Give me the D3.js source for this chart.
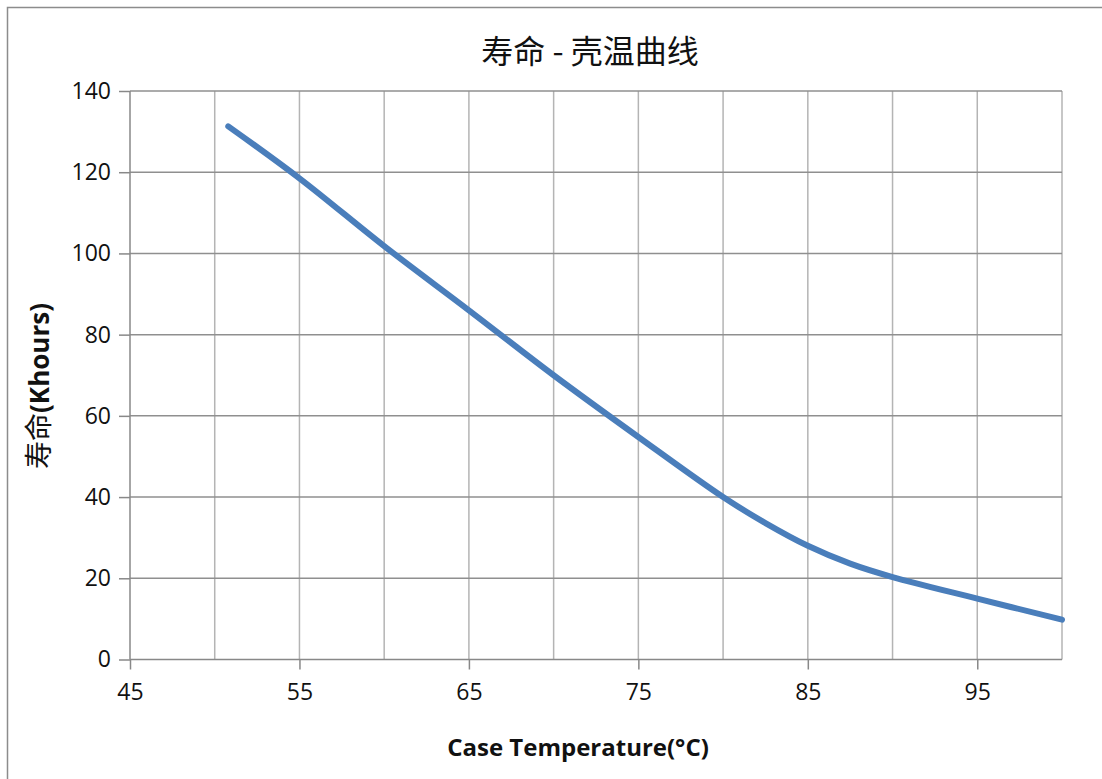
<!DOCTYPE html>
<html>
<head>
<meta charset="utf-8">
<script src="https://cdn.jsdelivr.net/npm/d3@7/dist/d3.min.js"></script>
<style>
  body { margin: 0; background: #fff; }
  svg { display: block; }
</style>
</head>
<body>
<svg id="chart"></svg>
<script>
// data
var temps = [50.8, 55, 60, 65, 70, 75, 80, 82.5, 85, 87.5, 90, 95, 100];
var life = [131.3, 118.5, 101.8, 86, 70, 54.8, 40, 33.6, 28, 23.6, 20.3, 15, 9.8];
var xTicks = [45, 55, 65, 75, 85, 95];
var xGrid = [50, 55, 60, 65, 70, 75, 80, 85, 90, 95, 100];
var yTicks = [0, 20, 40, 60, 80, 100, 120, 140];

var svgWidth = 1102, svgHeight = 779;
var plotLeft = 130, plotRight = 1062, plotTop = 91, plotBottom = 659.5;

var svg = d3.select('#chart')
    .attr("width", svgWidth)
    .attr("height", svgHeight);

// outer border
svg.append("rect")
    .attr("x", 7.5).attr("y", 7.5)
    .attr("width", svgWidth + 20).attr("height", svgHeight + 20)
    .attr("fill", "none")
    .attr("stroke", "#8c8c8c")
    .attr("stroke-width", 1.5);

var x = d3.scaleLinear().domain([45, 100]).range([plotLeft, plotRight]);
var y = d3.scaleLinear().domain([0, 140]).range([plotBottom, plotTop]);

// gridlines
svg.selectAll(".vgrid")
    .data(xGrid)
    .enter()
    .append("line")
    .attr("x1", function(d) { return x(d); })
    .attr("x2", function(d) { return x(d); })
    .attr("y1", plotTop).attr("y2", plotBottom)
    .attr("stroke", "#b4b4b4")
    .attr("stroke-width", 1.5);

svg.selectAll(".hgrid")
    .data(yTicks.slice(1))
    .enter()
    .append("line")
    .attr("x1", plotLeft).attr("x2", plotRight)
    .attr("y1", function(d) { return y(d); })
    .attr("y2", function(d) { return y(d); })
    .attr("stroke", "#8f8f8f")
    .attr("stroke-width", 1.5);

// axes
var xAxis = d3.axisBottom(x).tickValues(xTicks).tickSize(10).tickPadding(14).tickFormat(d3.format("d"));
var yAxis = d3.axisLeft(y).tickValues(yTicks).tickSize(11).tickPadding(8).tickFormat(d3.format("d"));

var gx = svg.append("g")
    .attr("transform", "translate(0," + plotBottom + ")")
    .call(xAxis);
var gy = svg.append("g")
    .attr("transform", "translate(" + plotLeft + ",0)")
    .call(yAxis);

[gx, gy].forEach(function(g) {
    g.select(".domain").attr("stroke", "#888").attr("stroke-width", 1.5);
    g.selectAll(".tick line").attr("stroke", "#888").attr("stroke-width", 1.5);
    g.selectAll(".tick text")
        .style("font", "23px 'Open Sans'")
        .attr("fill", "#111");
});
gy.select(".domain").attr("d", "M0," + plotBottom + "V" + plotTop);
gx.select(".domain").attr("d", "M" + plotLeft + ",0H" + plotRight);

// curve
var line = d3.line()
    .x(function(d, i) { return x(temps[i]); })
    .y(function(d) { return y(d); })
    .curve(d3.curveCatmullRom.alpha(0.5));

svg.append("path")
    .datum(life)
    .attr("d", line)
    .attr("fill", "none")
    .attr("stroke", "#4a7ebb")
    .attr("stroke-width", 6)
    .attr("stroke-linecap", "round");

// title
svg.append("text")
    .attr("x", 590).attr("y", 63)
    .attr("text-anchor", "middle")
    .style("font", "32px 'Noto Sans CJK SC'")
    .attr("fill", "#111")
    .text("寿命 - 壳温曲线");

// x axis title
svg.append("text")
    .attr("x", 578).attr("y", 756)
    .attr("text-anchor", "middle")
    .style("font", "bold 24px 'Open Sans'")
    .attr("fill", "#111")
    .text("Case Temperature(°C)");

// y axis title
var yt = svg.append("text")
    .attr("transform", "translate(49,386) rotate(-90)")
    .attr("text-anchor", "middle")
    .attr("fill", "#111");
yt.append("tspan")
    .style("font", "28px 'Noto Sans CJK SC'")
    .text("寿命");
yt.append("tspan")
    .style("font", "bold 26px 'Open Sans'")
    .text("(Khours)");
</script>
</body>
</html>
